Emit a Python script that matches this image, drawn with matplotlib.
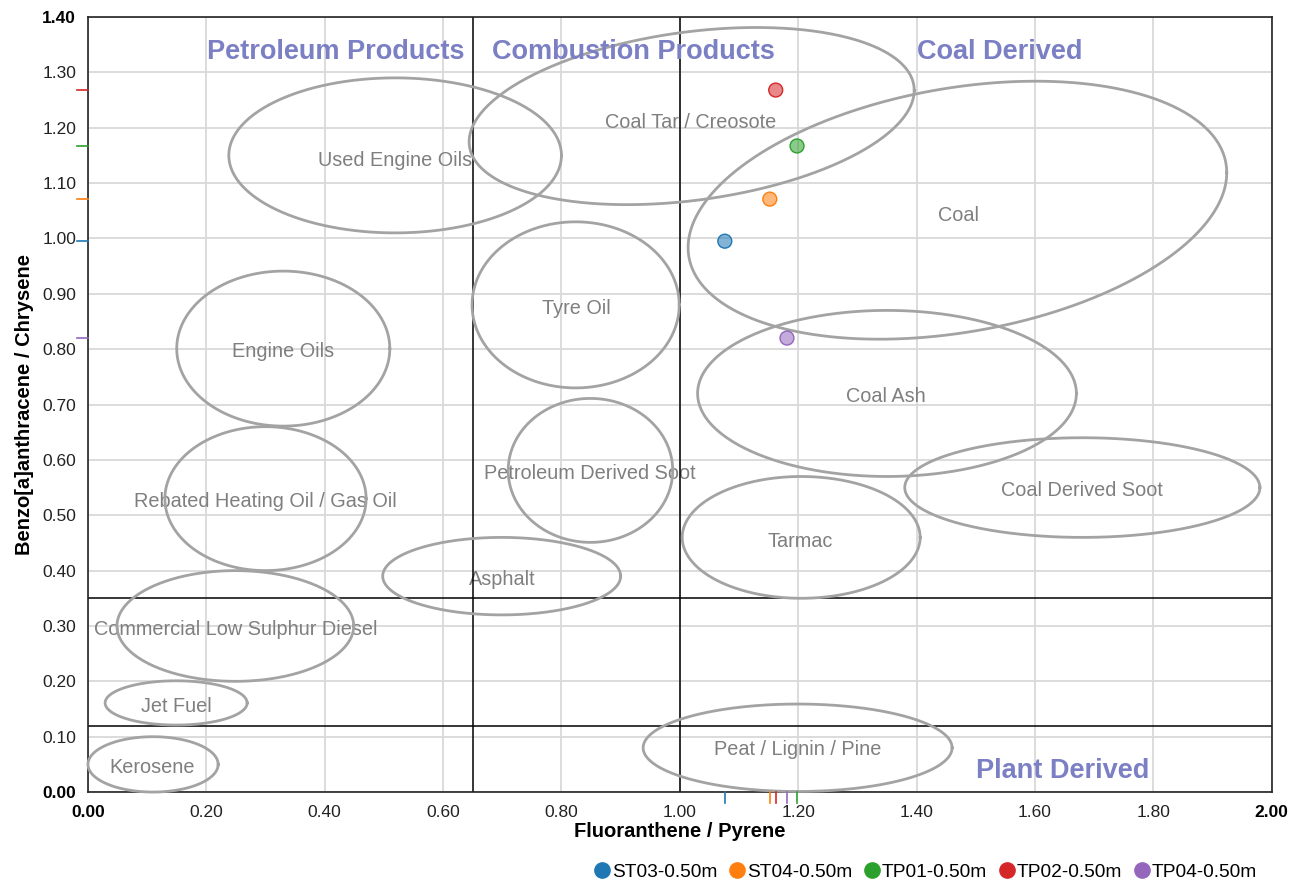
import numpy as np
import matplotlib
matplotlib.use("Agg")
import matplotlib.pyplot as plt
from matplotlib.transforms import blended_transform_factory

plt.rcParams['font.family'] = ['Liberation Sans', 'DejaVu Sans']

# Sample points: Fluoranthene/Pyrene vs Benzo[a]anthracene/Chrysene
samples = ["ST03-0.50m", "ST04-0.50m", "TP01-0.50m", "TP02-0.50m", "TP04-0.50m"]
fl_py = [1.076, 1.152, 1.198, 1.162, 1.181]
baa_chr = [0.995, 1.071, 1.167, 1.268, 0.820]
colors = ["#1f77b4", "#ff7f0e", "#2ca02c", "#d62728", "#9467bd"]

# Source fields: name, centre x, centre y, half-width, half-height, tilt (x-y coupling)
sources = ["Used Engine Oils", "Coal Tar / Creosote", "Coal", "Engine Oils", "Tyre Oil",
           "Coal Ash", "Petroleum Derived Soot", "Rebated Heating Oil / Gas Oil",
           "Coal Derived Soot", "Tarmac", "Asphalt", "Commercial Low Sulphur Diesel",
           "Jet Fuel", "Kerosene", "Peat / Lignin / Pine"]
src_cx = [0.519, 1.020, 1.469, 0.330, 0.824, 1.350, 0.849, 0.300, 1.680, 1.205, 0.699, 0.249, 0.149, 0.110, 1.199]
src_cy = [1.150, 1.221, 1.051, 0.801, 0.880, 0.720, 0.581, 0.530, 0.550, 0.460, 0.390, 0.300, 0.161, 0.050, 0.080]
src_hw = [0.281, 0.376, 0.455, 0.180, 0.175, 0.320, 0.139, 0.170, 0.300, 0.201, 0.201, 0.200, 0.120, 0.110, 0.261]
src_hh = [0.140, 0.160, 0.233, 0.140, 0.150, 0.150, 0.130, 0.130, 0.090, 0.110, 0.070, 0.100, 0.040, 0.050, 0.079]
src_tilt = [0, 0.29, 0.29, 0, 0, 0, 0, 0, 0, 0, 0, 0, 0, 0, 0]
label_x = [0.519, 1.019, 1.470, 0.329, 0.825, 1.348, 0.848, 0.300, 1.679, 1.204, 0.700, 0.250, 0.149, 0.108, 1.199]
label_y = [1.141, 1.209, 1.042, 0.795, 0.873, 0.715, 0.575, 0.524, 0.544, 0.453, 0.384, 0.294, 0.155, 0.045, 0.076]

# Region headings
regions = ["Petroleum Products", "Combustion Products", "Coal Derived", "Plant Derived"]
region_x = [0.419, 0.921, 1.540, 1.647]
region_y = [1.337, 1.337, 1.337, 0.038]

# Class boundaries
div_x = [0.65, 1.00]
div_y = [0.35, 0.12]

xticks = [0.0, 0.2, 0.4, 0.6, 0.8, 1.0, 1.2, 1.4, 1.6, 1.8, 2.0]
yticks = [0.0, 0.1, 0.2, 0.3, 0.4, 0.5, 0.6, 0.7, 0.8, 0.9, 1.0, 1.1, 1.2, 1.3, 1.4]

fig = plt.figure(figsize=(12.99, 8.84), dpi=100)
ax = fig.add_axes([0.0677, 0.104, 0.9113, 0.8768])
ax.set_xlim(0, 2.0)
ax.set_ylim(0, 1.4)

ax.set_xticks(xticks)
ax.set_yticks(yticks)
ax.set_xticklabels([f"{v:.2f}" for v in xticks])
ax.set_yticklabels([f"{v:.2f}" for v in yticks])
ax.tick_params(length=0, labelsize=12.5, colors="#222222")
ax.tick_params(axis="x", pad=9)
ax.tick_params(axis="y", pad=8.5)
for lbls in (ax.get_xticklabels(), ax.get_yticklabels()):
    lbls[0].set_fontweight("bold")
    lbls[-1].set_fontweight("bold")
    lbls[0].set_color("black")
    lbls[-1].set_color("black")
ax.grid(True, color="#d9d9d9", linewidth=1.3, zorder=0)
ax.set_axisbelow(True)
for sp in ax.spines.values():
    sp.set_color("#222222")
    sp.set_linewidth(1.2)

ax.set_xlabel("Fluoranthene / Pyrene", fontsize=14.5, fontweight="bold", labelpad=2)
ax.set_ylabel("Benzo[a]anthracene / Chrysene", fontsize=14.5, fontweight="bold", labelpad=6)

# Source labels
for name, lx, ly in zip(sources, label_x, label_y):
    ax.text(lx, ly, name, ha="center", va="center", fontsize=14.3, color="#7f7f7f", zorder=1)

# Boundaries
for x in div_x:
    ax.axvline(x, color="black", linewidth=1.1, zorder=2)
for y in div_y:
    ax.axhline(y, color="black", linewidth=1.1, zorder=2)

# Source ellipses
t = np.linspace(0, 2 * np.pi, 500)
for cx, cy, hw, hh, c in zip(src_cx, src_cy, src_hw, src_hh, src_tilt):
    phi = np.arccos(c)
    ax.plot(cx + hw * np.cos(t), cy + hh * np.cos(t - phi),
            color="#a3a3a3", linewidth=2.0, zorder=3, clip_on=False)

for name, rx, ry in zip(regions, region_x, region_y):
    ax.text(rx, ry, name, ha="center", va="center", fontsize=19.5,
            fontweight="bold", color="#7b7fc4", zorder=4)

# Sample markers
for name, x, y, col in zip(samples, fl_py, baa_chr, colors):
    ax.scatter([x], [y], s=100, color=col, alpha=0.55, edgecolors="none", zorder=5)
    ax.scatter([x], [y], s=100, facecolors="none", edgecolors=col, linewidths=1.0, zorder=6)

# Rug marks on the axes
trans_x = blended_transform_factory(ax.transData, ax.transAxes)
trans_y = blended_transform_factory(ax.transAxes, ax.transData)
for x, y, col in zip(fl_py, baa_chr, colors):
    ax.plot([x, x], [0, -0.014], transform=trans_x, color=col, linewidth=1.2, clip_on=False, zorder=6)
    ax.plot([0, -0.009], [y, y], transform=trans_y, color=col, linewidth=1.2, clip_on=False, zorder=6)

handles = [plt.Line2D([], [], marker="o", linestyle="none", markersize=11,
                      markerfacecolor=c, markeredgecolor=c) for c in colors]
fig.legend(handles, samples, loc="center", bbox_to_anchor=(0.712, 0.0136), ncol=5,
           frameon=False, fontsize=13.8, handletextpad=0.0, columnspacing=0.55,
           handlelength=1.0)

fig.savefig("out.png", dpi=100)
